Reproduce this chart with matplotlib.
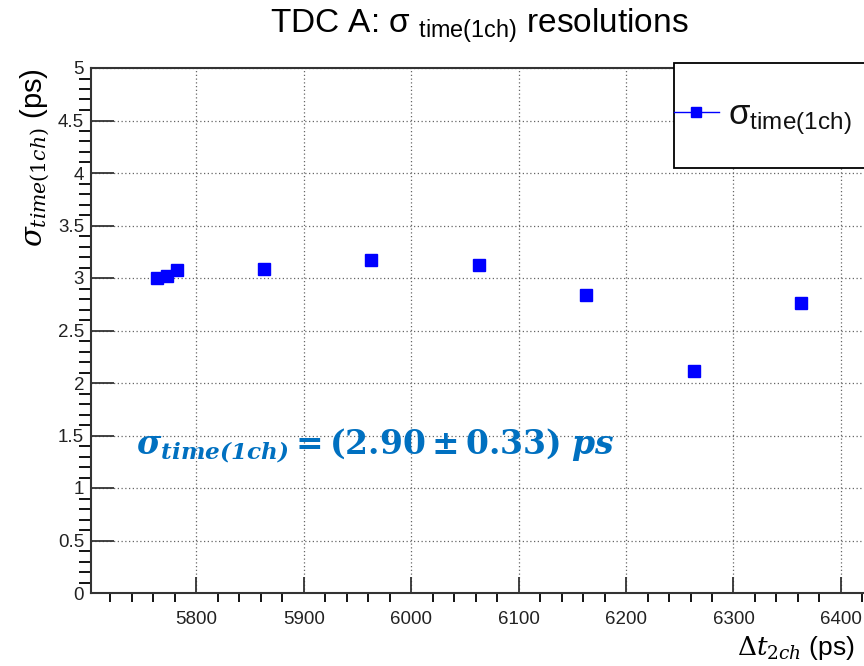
import matplotlib
matplotlib.use("Agg")
import matplotlib.pyplot as plt
from matplotlib.patches import Rectangle
from matplotlib.ticker import MultipleLocator, FuncFormatter

plt.rcParams.update({"font.family": "Liberation Sans",
    "mathtext.fontset": "custom",
    "mathtext.rm": "DejaVu Serif", "mathtext.it": "DejaVu Serif:italic",
    "mathtext.bf": "DejaVu Serif:bold", "mathtext.bfit": "DejaVu Serif:italic:bold",
    "mathtext.sf": "Liberation Sans"})

# Δt_2ch (ps) and sigma_time(1ch) (ps)
dt_2ch = [5763, 5773, 5782, 5863, 5963, 6063, 6163, 6263, 6363]
sigma_1ch = [3.00, 3.02, 3.08, 3.09, 3.17, 3.12, 2.84, 2.11, 2.76]
xlim = (5702, 6428)
ylim = (0, 5)

fig = plt.figure(figsize=(8.64, 6.66), dpi=100)
ax = fig.add_axes([91/864, 73/666, 780/864, 525/666])
ax.plot(dt_2ch, sigma_1ch, "s", color="#0000ff", ms=8, mec="#0000ff")
ax.set_xlim(*xlim); ax.set_ylim(*ylim)

ax.xaxis.set_major_locator(MultipleLocator(100)); ax.xaxis.set_minor_locator(MultipleLocator(20))
ax.yaxis.set_major_locator(MultipleLocator(0.5)); ax.yaxis.set_minor_locator(MultipleLocator(0.1))
ax.yaxis.set_major_formatter(FuncFormatter(lambda v, p: f"{v:g}"))
ax.tick_params(direction="in", colors="#333333", labelcolor="#222222", labelsize=13.5, width=1.3)
ax.tick_params(axis="x", which="major", length=11.5, pad=13)
ax.tick_params(axis="x", which="minor", length=6.5, width=1.3)
ax.tick_params(axis="y", which="major", length=16.5, pad=5)
ax.tick_params(axis="y", which="minor", length=8.6, width=1.3)
for s in ax.spines.values():
    s.set_color("#333333"); s.set_linewidth(1.5)
ax.grid(True, which="major", color="#666666", ls=(0, (1, 2)), lw=0.9)
ax.set_axisbelow(True)

ax.set_ylabel(r"$\sigma_{time(1ch)}$ (ps)", loc="top", fontsize=21, labelpad=4)
ax.set_xlabel(r"$\Delta t_{2ch}$ (ps)", fontsize=19)
ax.xaxis.set_label_coords((855 - 91) / 780, -0.105)
ax.xaxis.label.set_ha("right"); ax.xaxis.label.set_va("center")

fig.text(0.555, 0.962, r"TDC A: σ $_{\mathsf{time(1ch)}}$ resolutions", ha="center", va="center", fontsize=24)

# legend box
ax.add_patch(Rectangle((0.747, 0.8095), 0.3, 0.2, transform=ax.transAxes, fill=True,
                       fc="white", ec="black", lw=1.3, zorder=5, clip_on=False))
ax.plot([], [], "s-", color="#0000ff", ms=7, lw=1, label=r"$\mathsf{\sigma_{time(1ch)}}$")
leg = ax.legend(loc="center left", bbox_to_anchor=(0.707, 0.905), frameon=False, fontsize=25,
                handlelength=1.3, handletextpad=0.25)
leg.set_zorder(6)
for t in leg.get_texts():
    t.set_color("#111111")

ax.text(0.058, 0.28, r"$\mathbfit{\sigma_{time(1ch)}}\mathbf{ = (2.90 \pm 0.33)\ }\mathbfit{ps}$",
        transform=ax.transAxes, color="#0070c0", fontsize=23.8, va="center", zorder=4)

fig.savefig("out.png", dpi=100)
